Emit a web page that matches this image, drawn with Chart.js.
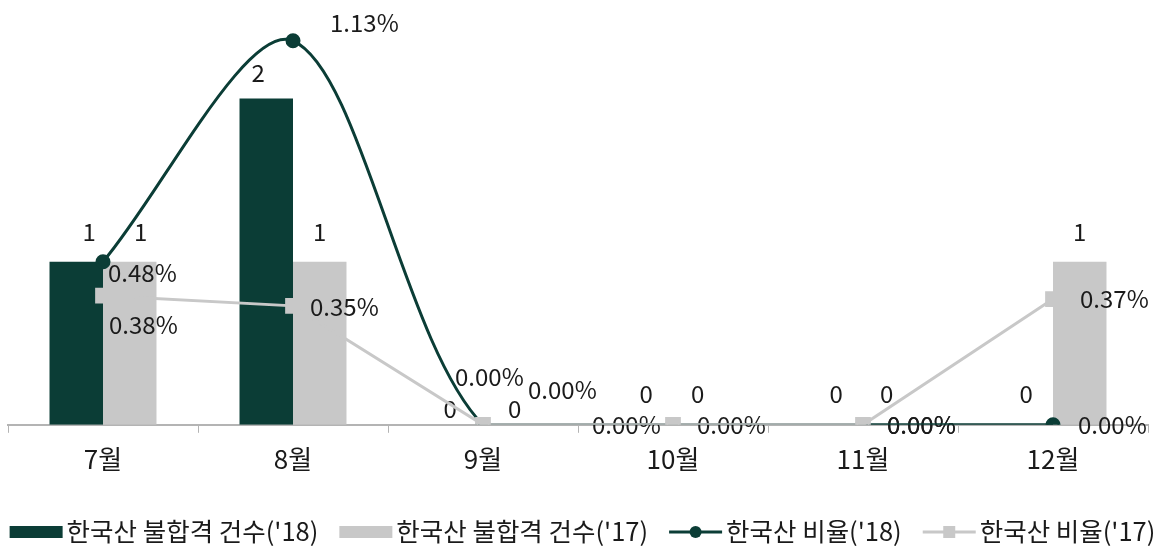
<!DOCTYPE html>
<html>
<head>
<meta charset="utf-8">
<script src="https://cdn.jsdelivr.net/npm/chart.js@4.4.1/dist/chart.umd.min.js"></script>
<style>
  html, body { margin: 0; padding: 0; background: #fff; }
</style>
</head>
<body>
<canvas id="rejectChart" width="1165" height="546"></canvas>
<script>
// chart data
const months = ['7월', '8월', '9월', '10월', '11월', '12월'];
const count18 = [1, 2, 0, 0, 0, 0];
const count17 = [1, 1, 0, 0, 0, 1];
const ratio18 = [0.48, 1.13, 0.00, 0.00, 0.00, 0.00];
const ratio17 = [0.38, 0.35, 0.00, 0.00, 0.00, 0.37];
const seriesNames = ["한국산 불합격 건수('18)", "한국산 불합격 건수('17)", "한국산 비율('18)", "한국산 비율('17)"];

const GREEN = '#0b3d36';
const GREY = '#c8c8c8';
const TEXT = '#1a1a1a';
const FONT = '"Noto Sans CJK KR", "Noto Sans", sans-serif';

function drawLabels(chart) {
  const ctx = chart.ctx;
  ctx.save();
  ctx.font = '24px ' + FONT;
  ctx.fillStyle = TEXT;
  ctx.textBaseline = 'middle';
  chart.data.datasets.forEach((ds, i) => {
    const meta = chart.getDatasetMeta(i);
    const isBar = ds.type === 'bar';
    meta.data.forEach((el, j) => {
      const shift = ds.labelShift[j];
      const text = isBar ? String(ds.data[j]) : ds.data[j].toFixed(2) + '%';
      ctx.textAlign = isBar ? 'center' : 'left';
      ctx.fillText(text, el.x + shift[0], el.y + shift[1]);
    });
  });
  ctx.restore();
}

// labels go in after the bars, before the lines (lines cross them like in the original)
const valueLabels = {
  id: 'valueLabels',
  beforeDatasetsDraw(chart) { chart.$labelsDone = false; },
  beforeDatasetDraw(chart, args) {
    if (args.meta.type !== 'line' || chart.$labelsDone) return;
    chart.$labelsDone = true;
    drawLabels(chart);
  },
  afterDatasetsDraw(chart) {
    if (!chart.$labelsDone) drawLabels(chart);
  }
};

// bottom legend, drawn by hand so the line series get a line + marker swatch
const bottomLegend = {
  id: 'bottomLegend',
  afterDraw(chart) {
    const ctx = chart.ctx;
    const y = 531;
    const swatchW = 53, textGap = 4, itemGap = 21;
    ctx.save();
    ctx.font = '25.5px ' + FONT;
    ctx.textBaseline = 'middle';
    const widths = chart.data.datasets.map(ds => swatchW + textGap + ctx.measureText(ds.label).width);
    const total = widths.reduce((a, b) => a + b, 0) + itemGap * (widths.length - 1);
    let x = (chart.width - total) / 2;
    chart.data.datasets.forEach((ds, i) => {
      const color = ds.type === 'bar' ? ds.backgroundColor : ds.borderColor;
      ctx.fillStyle = color;
      ctx.strokeStyle = color;
      if (ds.type === 'bar') {
        ctx.fillRect(x, y - 5, swatchW, 12);
      } else {
        ctx.lineWidth = 3;
        ctx.beginPath();
        ctx.moveTo(x, y + 1);
        ctx.lineTo(x + swatchW, y + 1);
        ctx.stroke();
        if (ds.pointStyle === 'rect') {
          ctx.fillRect(x + swatchW / 2 - 6, y - 5, 12, 12);
        } else {
          ctx.beginPath();
          ctx.arc(x + swatchW / 2, y + 1, 6, 0, Math.PI * 2);
          ctx.fill();
        }
      }
      ctx.fillStyle = TEXT;
      ctx.textAlign = 'left';
      ctx.fillText(ds.label, x + swatchW + textGap, y);
      x += widths[i] + itemGap;
    });
    ctx.restore();
  }
};

new Chart(document.getElementById('rejectChart'), {
  data: {
    labels: months,
    datasets: [
      {
        type: 'bar',
        label: seriesNames[0],
        data: count18,
        backgroundColor: GREEN,
        yAxisID: 'y',
        order: 2,
        categoryPercentage: 0.563,
        barPercentage: 1,
        labelShift: [[13, -30], [-8, -26], [-6, -16], [0, -31], [0, -31], [0, -31]]
      },
      {
        type: 'bar',
        label: seriesNames[1],
        data: count17,
        backgroundColor: GREY,
        yAxisID: 'y',
        order: 3,
        categoryPercentage: 0.563,
        barPercentage: 1,
        labelShift: [[11, -30], [0, -30], [5, -16], [-2, -31], [-3, -31], [0, -30]]
      },
      {
        type: 'line',
        label: seriesNames[2],
        data: ratio18,
        yAxisID: 'y1',
        order: 1,
        borderColor: GREEN,
        borderWidth: 3,
        pointStyle: 'circle',
        pointRadius: 6,
        pointBackgroundColor: GREEN,
        pointBorderColor: GREEN,
        tension: 0.3,
        labelShift: [[5, 11], [37, -18], [-28, -48], [-81, 0], [24, 0], [25, 0]]
      },
      {
        type: 'line',
        label: seriesNames[3],
        data: ratio17,
        yAxisID: 'y1',
        order: 0,
        borderColor: GREY,
        borderWidth: 3,
        pointStyle: 'rect',
        pointRadius: 9,
        pointBackgroundColor: GREY,
        pointBorderColor: GREY,
        tension: 0,
        labelShift: [[6, 29], [17, 1], [45, -35], [24, 0], [24, 0], [27, 0]]
      }
    ]
  },
  options: {
    responsive: false,
    animation: false,
    layout: { autoPadding: false, padding: { left: 8, right: 17, top: 17, bottom: 60 } },
    plugins: {
      tooltip: { enabled: false },
      legend: { display: false }
    },
    scales: {
      x: {
        offset: true,
        grid: { offset: true, drawOnChartArea: false, drawTicks: true, tickLength: 8, color: '#b4b4b4' },
        border: { color: '#b4b4b4', width: 2 },
        ticks: { padding: 11, color: TEXT, font: { family: FONT, size: 26 } }
      },
      y: { display: false, min: 0, max: 2.5 },
      y1: { display: false, min: 0, max: 1.2 }
    }
  },
  plugins: [valueLabels, bottomLegend]
});
</script>
</body>
</html>
